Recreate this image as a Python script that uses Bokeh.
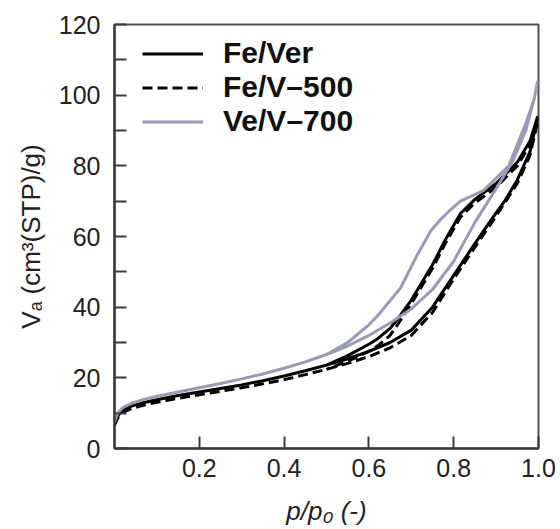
from bokeh.plotting import figure
from bokeh.models import FixedTicker, Legend, LegendItem, Range1d
from bokeh.embed import file_html
from bokeh.resources import INLINE

# ---- data ----
fever_ads_x = [0.0, 0.005, 0.01, 0.02, 0.04, 0.07, 0.1, 0.15, 0.2, 0.25, 0.3, 0.35, 0.4, 0.45, 0.5,
               0.55, 0.6, 0.65, 0.7, 0.75, 0.8, 0.85, 0.89, 0.92, 0.95, 0.98, 0.998]
fever_ads_y = [7.0, 8.5, 9.6, 10.8, 12.0, 13.0, 13.8, 15.0, 16.0, 17.0, 18.0, 19.2, 20.5, 22.0, 23.6,
               25.4, 27.5, 30.0, 33.5, 40.0, 49.0, 58.0, 65.0, 70.0, 76.0, 84.0, 94.0]
fever_des_x = [0.998, 0.98, 0.95, 0.9, 0.85, 0.816, 0.78, 0.75, 0.72, 0.7, 0.67, 0.65, 0.62, 0.6, 0.55, 0.5]
fever_des_y = [94.0, 87.0, 81.0, 75.0, 70.5, 66.5, 59.0, 52.0, 46.0, 42.0, 37.0, 34.0, 31.0, 29.5, 26.3, 23.6]

fev500_ads_x = fever_ads_x
fev500_ads_y = [6.5, 8.0, 9.0, 10.2, 11.3, 12.3, 13.1, 14.2, 15.2, 16.2, 17.2, 18.3, 19.5, 20.9, 22.4,
                24.1, 26.0, 28.5, 32.0, 38.5, 48.0, 57.0, 64.0, 69.5, 75.0, 83.0, 92.5]
fev500_des_x = fever_des_x
fev500_des_y = [92.5, 86.0, 80.0, 74.0, 69.5, 65.5, 58.0, 51.0, 45.0, 41.0, 35.5, 32.0, 29.0, 27.5, 24.7, 22.4]

vev700_ads_x = [0.0, 0.005, 0.01, 0.02, 0.04, 0.07, 0.1, 0.15, 0.2, 0.25, 0.3, 0.35, 0.4, 0.45, 0.5,
                0.55, 0.6, 0.65, 0.7, 0.75, 0.8, 0.85, 0.9, 0.94, 0.97, 0.99, 0.998]
vev700_ads_y = [7.5, 9.2, 10.4, 11.6, 12.8, 13.9, 14.8, 16.0, 17.2, 18.4, 19.7, 21.1, 22.7, 24.5, 26.6,
                29.0, 32.0, 35.5, 39.5, 45.0, 53.0, 64.0, 73.5, 81.5, 90.0, 99.0, 104.0]
vev700_des_x = [0.998, 0.99, 0.97, 0.93, 0.87, 0.816, 0.792, 0.769, 0.745, 0.733, 0.715, 0.698, 0.675,
                0.651, 0.62, 0.6, 0.55, 0.5]
vev700_des_y = [104.0, 99.0, 92.0, 80.0, 73.0, 70.0, 67.5, 64.8, 61.5, 58.8, 55.0, 51.0, 45.5,
                42.0, 37.5, 35.0, 30.0, 26.6]

series_names = ["Fe/Ver", "Fe/V\u2013500", "Ve/V\u2013700"]
x_ticks = [0.2, 0.4, 0.6, 0.8, 1.0]
x_tick_labels = ["0.2", "0.4", "0.6", "0.8", "1.0"]
y_ticks = [0, 20, 40, 60, 80, 100, 120]
y_minor = [10, 30, 50, 70, 90, 110]
x_label = "p/p\u2080 (-)"
y_label = "V\u2090 (cm\u00b3(STP)/g)"

FONT = "Liberation Sans"
AX = "#3c3c3c"

p = figure(frame_width=424, frame_height=424, output_backend="svg", toolbar_location=None,
           x_range=Range1d(0, 1.0), y_range=Range1d(0, 120),
           min_border_left=114, min_border_top=24, min_border_right=22, min_border_bottom=80)
p.xgrid.visible = False
p.ygrid.visible = False
p.outline_line_color = "#505050"
p.outline_line_width = 2
p.background_fill_color = "white"
p.border_fill_color = "white"

r1 = p.line(fever_ads_x + fever_des_x, fever_ads_y + fever_des_y, line_color="black", line_width=3)
r2 = p.line(fev500_ads_x + fev500_des_x, fev500_ads_y + fev500_des_y, line_color="black",
            line_width=3, line_dash="10 5")
r3 = p.line(vev700_ads_x + vev700_des_x, vev700_ads_y + vev700_des_y, line_color="#9a9ab6", line_width=3)

for ax in (p.xaxis[0], p.yaxis[0]):
    ax.axis_line_color = AX
    ax.axis_line_width = 2.5
    ax.major_tick_line_color = AX
    ax.major_tick_line_width = 2
    ax.major_tick_in = 12
    ax.major_tick_out = 0
    ax.minor_tick_line_color = AX
    ax.minor_tick_line_width = 2
    ax.minor_tick_in = 12
    ax.minor_tick_out = 0
    ax.major_label_text_font = FONT
    ax.major_label_text_font_size = "25px"
    ax.major_label_text_color = "#222222"
    ax.axis_label_text_font = FONT
    ax.axis_label_text_font_size = "26px"
    ax.axis_label_text_color = "#222222"

p.xaxis.ticker = FixedTicker(ticks=x_ticks)
p.xaxis.major_label_overrides = {t: s for t, s in zip(x_ticks, x_tick_labels)}
p.xaxis.major_label_standoff = 10
p.xaxis.axis_label = x_label
p.xaxis.axis_label_text_font_style = "italic"
p.xaxis.axis_label_standoff = 16

p.yaxis.ticker = FixedTicker(ticks=y_ticks, minor_ticks=y_minor)
p.yaxis.major_label_standoff = 14
p.yaxis.axis_label = y_label
p.yaxis.axis_label_text_font_style = "normal"
p.yaxis.axis_label_standoff = 10

legend = Legend(items=[LegendItem(label=series_names[0], renderers=[r1]),
                       LegendItem(label=series_names[1], renderers=[r2]),
                       LegendItem(label=series_names[2], renderers=[r3])],
                location=(28, 310), margin=0, padding=0, spacing=0,
                glyph_width=61, glyph_height=33, label_height=33, label_standoff=20,
                label_text_font=FONT, label_text_font_size="30px", label_text_font_style="bold",
                label_text_color="#111111", border_line_color=None, background_fill_alpha=0)
p.add_layout(legend)

open("out.html", "w").write(file_html(p, INLINE))
